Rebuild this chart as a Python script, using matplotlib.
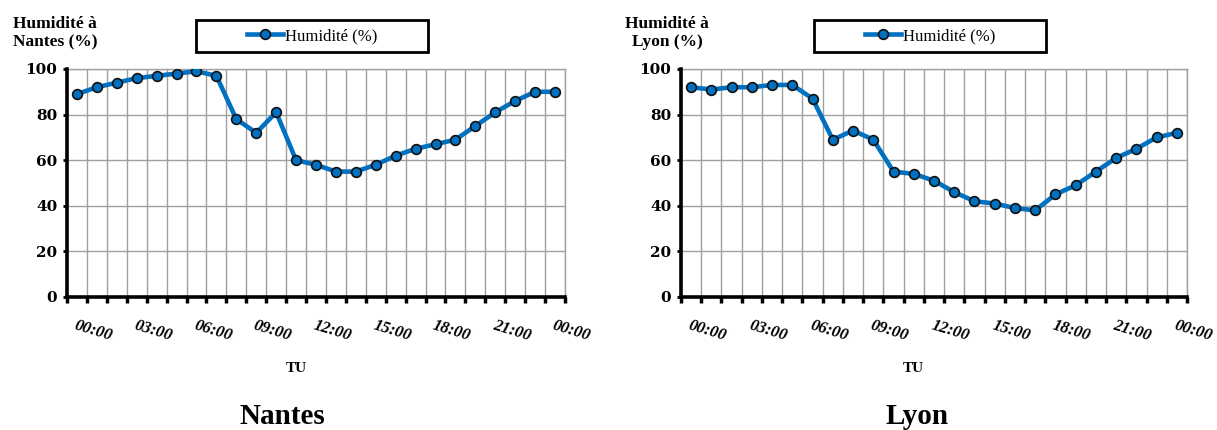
import numpy as np
import matplotlib
matplotlib.use("Agg")
import matplotlib.pyplot as plt
from matplotlib.patches import Rectangle

plt.rcParams["font.family"] = ["Liberation Serif", "DejaVu Serif"]

# hourly humidity, 00:00 -> 24:00 (25 values)
hours = ["00:00", "03:00", "06:00", "09:00", "12:00", "15:00", "18:00", "21:00", "00:00"]
nantes = [89, 92, 94, 96, 97, 98, 99, 97, 78, 72, 81, 60, 58, 55, 55, 58, 62, 65, 67, 69, 75, 81, 86, 90, 90]
lyon = [92, 91, 92, 92, 93, 93, 87, 69, 73, 69, 55, 54, 51, 46, 42, 41, 39, 38, 45, 49, 55, 61, 65, 70, 72]
yticks = [0, 20, 40, 60, 80, 100]

W, H = 1217, 430
BLUE = "#0070C0"
GRID = "#A0A0A0"

fig = plt.figure(figsize=(W / 100, H / 100), dpi=100)


def px(x0, y0, x1, y1):
    """pixel box (top-left origin) -> figure fraction rect"""
    return [x0 / W, 1 - y1 / H, (x1 - x0) / W, (y1 - y0) / H]


def panel(box, values, city, ylab_x, leg_cx, tu_x, title_x):
    ax = fig.add_axes(px(*box))
    x = np.arange(len(values))
    line, = ax.plot(x, values, color=BLUE, lw=3.3, marker="o", ms=7,
                    mfc=BLUE, mec="#111111", mew=1.2, label="Humidité (%)",
                    zorder=3)
    ax.set_xlim(-0.5, len(values) - 0.5)
    ax.set_ylim(0, 100)
    ax.set_yticks(yticks)
    ax.set_yticklabels([str(v) for v in yticks], fontweight="bold", fontsize=11,
                       family="DejaVu Serif")
    ax.set_xticks(np.arange(0, len(values), 3))
    ax.set_xticklabels(hours, fontweight="bold", fontstyle="italic", fontsize=12,
                       rotation=-17, ha="left", va="top", rotation_mode="anchor")
    ax.set_xticks(np.arange(-0.5, len(values), 1), minor=True)
    ax.tick_params(axis="x", which="major", length=0, pad=15)
    ax.tick_params(axis="x", which="minor", length=4, width=2.5, color="black",
                   direction="out")
    ax.tick_params(axis="y", length=3, width=2, pad=4)
    ax.grid(axis="x", which="minor", color=GRID, lw=1)
    ax.grid(axis="y", which="major", color=GRID, lw=1)
    for s in ("left", "bottom"):
        ax.spines[s].set_linewidth(2.6)
        ax.spines[s].set_zorder(4)
    for s in ("top", "right"):
        ax.spines[s].set_color(GRID)
        ax.spines[s].set_linewidth(1)

    # legend box
    fig.patches.append(Rectangle(((leg_cx - 116) / W, 1 - 52 / H), 232 / W, 32 / H,
                                 transform=fig.transFigure, fill=False,
                                 ec="black", lw=2))
    fig.legend(handles=[line], loc="center", bbox_to_anchor=(leg_cx / W, 1 - 36 / H),
               frameon=False, fontsize=12, handlelength=2.2, handletextpad=0.1,
               borderpad=0)

    fig.text(ylab_x / W, 1 - 33 / H, "Humidité à\n%s (%%)" % city, ha="center",
             va="center", fontweight="bold", fontsize=12.5, linespacing=1.15)
    fig.text(tu_x / W, 1 - 368 / H, "TU", ha="center", va="center",
             fontweight="bold", fontsize=11)
    fig.text(title_x / W, 1 - 416 / H, city, ha="center", va="center",
             fontweight="bold", fontsize=21)


panel((67, 69, 565, 297), nantes, "Nantes", 55, 312, 296, 282)
panel((681, 69, 1187, 297), lyon, "Lyon", 667, 930, 913, 917)

fig.savefig("out.png", dpi=100)
